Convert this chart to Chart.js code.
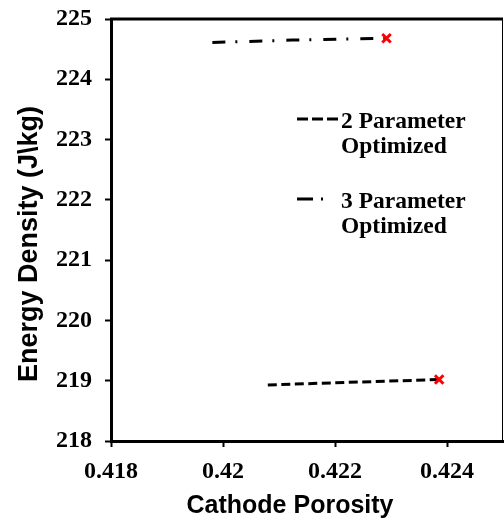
<!DOCTYPE html>
<html>
<head>
<meta charset="utf-8">
<script src="https://cdn.jsdelivr.net/npm/chart.js@4"></script>
<style>
  html, body { margin: 0; padding: 0; background: #fff; }
  #wrap { width: 504px; height: 518px; }
</style>
</head>
<body>
<div id="wrap"><canvas id="c" width="504" height="518"></canvas></div>
<script>
// ---- data ----
const xTickValues = [0.418, 0.420, 0.422, 0.424];
const xTickLabels = ['0.418', '0.42', '0.422', '0.424'];
const yTickValues = [218, 219, 220, 221, 222, 223, 224, 225];

const twoParamX = [0.4208, 0.42386];
const twoParamY = [218.93, 219.02];

const threeParamX = [0.41981, 0.42123, 0.42292];
const threeParamY = [224.61, 224.65, 224.68];

const seriesLabels = [['2 Parameter', 'Optimized'], ['3 Parameter', 'Optimized']];

const xTitle = 'Cathode Porosity';
const yTitle = 'Energy Density (J\\kg)';

function toPts(xs, ys) { return xs.map((x, i) => ({ x: x, y: ys[i] })); }
function lastOnly(r) { return ctx => ctx.dataIndex === ctx.dataset.data.length - 1 ? r : 0; }

const serif = "'Liberation Serif', 'Times New Roman', serif";
const sans = "'Liberation Sans', Arial, sans-serif";

const legendSamples = [
  { dash: [11, 4], x0: 297, x1: 338, y: 119, tx: 341, ty: [128, 153] },
  { dash: [16, 8, 2, 8], x0: 297, x1: 330, y: 199, tx: 341, ty: [208, 233] }
];

const framePlugin = {
  id: 'frame',
  afterDraw(chart) {
    const { ctx, chartArea: a } = chart;
    ctx.save();
    ctx.strokeStyle = '#000';
    ctx.lineWidth = 3;
    ctx.beginPath();
    ctx.moveTo(a.left - 1, a.top);
    ctx.lineTo(a.right, a.top);
    ctx.stroke();
    ctx.lineWidth = 1;
    ctx.beginPath();
    ctx.moveTo(a.right - 0.5, a.top);
    ctx.lineTo(a.right - 0.5, a.bottom);
    ctx.stroke();
    // axis titles
    ctx.fillStyle = '#000';
    ctx.font = 'bold 25px ' + sans;
    ctx.textAlign = 'center';
    ctx.textBaseline = 'alphabetic';
    ctx.fillText(xTitle, 290, 513);
    ctx.save();
    ctx.translate(37, 244);
    ctx.rotate(-Math.PI / 2);
    ctx.font = 'bold 27px ' + sans;
    ctx.fillText(yTitle, 0, 0);
    ctx.restore();
    // legend
    chart.data.datasets.forEach((ds, i) => {
      const s = legendSamples[i];
      ctx.strokeStyle = '#000';
      ctx.lineWidth = 3;
      ctx.setLineDash(s.dash);
      ctx.beginPath();
      ctx.moveTo(s.x0, s.y);
      ctx.lineTo(s.x1, s.y);
      ctx.stroke();
      ctx.setLineDash([]);
      ctx.fillStyle = '#000';
      ctx.font = 'bold 23.5px ' + serif;
      ctx.textAlign = 'left';
      ctx.textBaseline = 'alphabetic';
      ds.label.forEach((line, j) => ctx.fillText(line, s.tx, s.ty[j]));
    });
    ctx.restore();
  }
};

new Chart(document.getElementById('c'), {
  type: 'scatter',
  data: {
    datasets: [
      {
        label: seriesLabels[0],
        data: toPts(twoParamX, twoParamY),
        showLine: true,
        borderColor: '#000',
        borderWidth: 3,
        borderDash: [9, 4.5],
        borderCapStyle: 'butt',
        pointStyle: 'crossRot',
        pointRadius: lastOnly(6),
        pointHoverRadius: lastOnly(6),
        pointBorderColor: '#ff0000',
        pointBackgroundColor: '#ff0000',
        pointBorderWidth: 3
      },
      {
        label: seriesLabels[1],
        data: toPts(threeParamX, threeParamY),
        showLine: true,
        borderColor: '#000',
        borderWidth: 3,
        borderDash: [13, 10, 2, 12],
        borderCapStyle: 'butt',
        pointStyle: 'crossRot',
        pointRadius: lastOnly(6),
        pointHoverRadius: lastOnly(6),
        pointBorderColor: '#ff0000',
        pointBackgroundColor: '#ff0000',
        pointBorderWidth: 3
      }
    ]
  },
  options: {
    responsive: false,
    animation: false,
    layout: { autoPadding: false, padding: { top: 19, right: 1, left: 0, bottom: 0 } },
    plugins: { legend: { display: false }, tooltip: { enabled: false } },
    scales: {
      x: {
        type: 'linear',
        min: 0.418,
        max: 0.425,
        afterBuildTicks(scale) { scale.ticks = xTickValues.map(v => ({ value: v })); },
        afterFit(scale) { scale.height = 77; scale.paddingLeft = 0; scale.paddingRight = 0; },
        grid: { display: true, drawOnChartArea: false, drawTicks: true, tickLength: 6, tickWidth: 2, tickColor: '#000' },
        border: { display: true, color: '#000', width: 3 },
        ticks: {
          color: '#000',
          padding: 10,
          maxRotation: 0,
          font: { family: serif, size: 24, weight: 'bold' },
          callback: (v) => { const i = xTickValues.findIndex(t => Math.abs(t - v) < 1e-9); return i >= 0 ? xTickLabels[i] : ''; }
        },
        title: { display: false }
      },
      y: {
        type: 'linear',
        min: 218,
        max: 225,
        afterBuildTicks(scale) { scale.ticks = yTickValues.map(v => ({ value: v })); },
        afterFit(scale) { scale.width = 111; scale.paddingTop = 0; scale.paddingBottom = 0; },
        grid: { display: true, drawOnChartArea: false, drawTicks: true, tickLength: 6, tickWidth: 2, tickColor: '#000' },
        border: { display: true, color: '#000', width: 3 },
        ticks: {
          color: '#000',
          padding: 13,
          font: { family: serif, size: 24, weight: 'bold' },
          callback: (v) => String(v)
        },
        title: { display: false }
      }
    }
  },
  plugins: [framePlugin]
});
</script>
</body>
</html>
